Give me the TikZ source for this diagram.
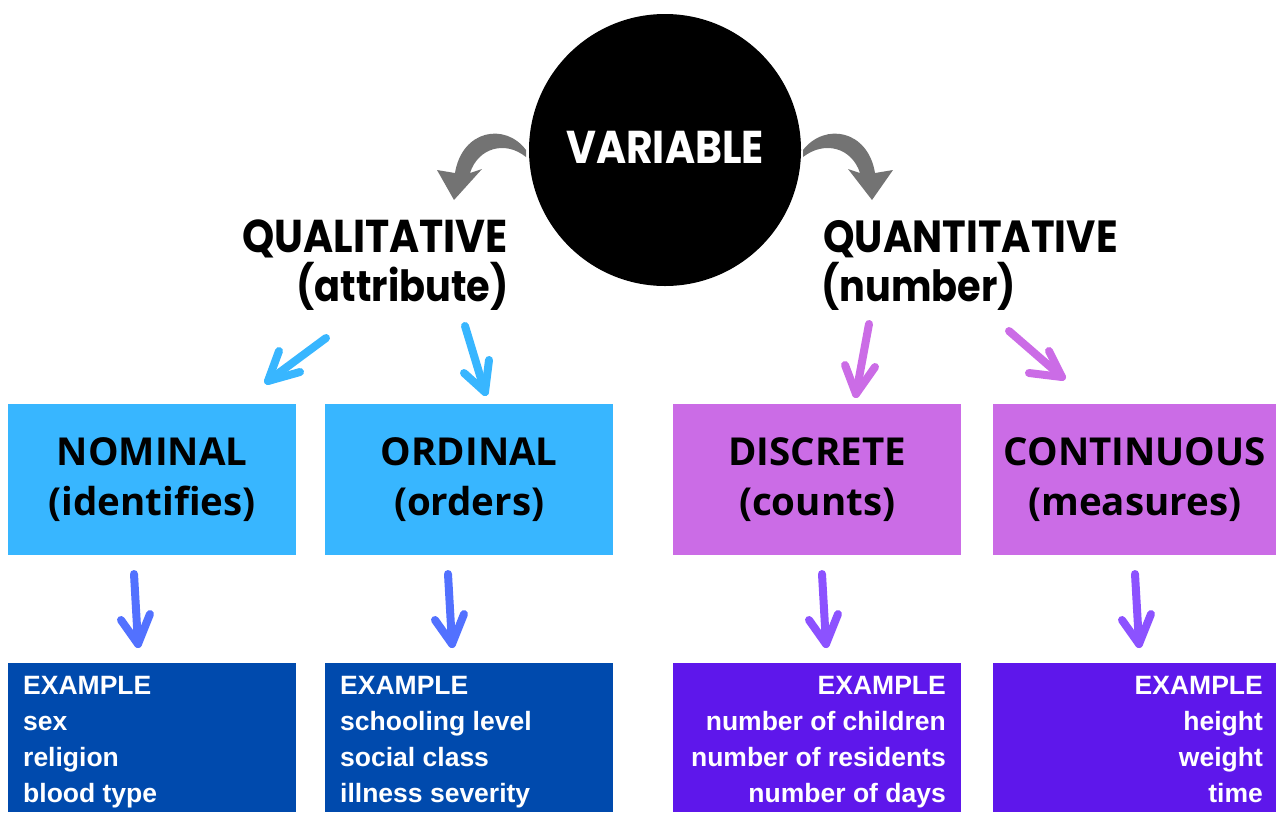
\documentclass[tikz,border=0pt]{standalone}
\usepackage{fontspec}
\setmainfont{Liberation Sans}
\newfontfamily\dispfont{Poppins}[FakeStretch=0.89]
\newfontfamily\boxfont{Open Sans}
\begin{document}
\begin{tikzpicture}[x=1pt,y=-1pt]
\definecolor{qualbox}{HTML}{38B6FF}
\definecolor{quanbox}{HTML}{CB6CE6}
\definecolor{qualex}{HTML}{004AAD}
\definecolor{quanex}{HTML}{5E17EB}
\definecolor{qualarrow}{HTML}{5271FF}
\definecolor{quanarrow}{HTML}{8C52FF}
\definecolor{curlgray}{HTML}{737373}
\tikzset{
  kindbox/.style={minimum width=288pt, minimum height=151pt, inner sep=0pt, anchor=north west,
    font=\boxfont\bfseries\fontsize{38.5}{50}\selectfont, align=center},
  exbox/.style={minimum width=288pt, minimum height=149pt, inner sep=0pt, anchor=north west},
  extext/.style={font=\bfseries\fontsize{26.5}{36}\selectfont, text=white, inner sep=0pt},
  headtext/.style={font=\dispfont\bfseries\fontsize{46}{48}\selectfont, inner sep=0pt},
  subtext/.style={font=\dispfont\bfseries\fontsize{43}{48}\selectfont, inner sep=0pt},
  sketch/.style={line width=8pt, line cap=round, line join=round},
}
\useasboundingbox (0,0) rectangle (1276,812);

% central circle
\node[circle, fill=black, minimum size=272pt, inner sep=0pt] (var) at (665,150) {};
\node[headtext, text=white] (varlabel) at (665,147) {VARIABLE};

% branch headings
\node[headtext, anchor=east] (qual) at (508,239) {QUALITATIVE};
\node[subtext, anchor=east] (qualsub) at (509,286) {(attribute)};
\node[headtext, anchor=west, font=\dispfont\bfseries\fontsize{45}{48}\selectfont] (quan) at (823,239) {QUANTITATIVE};
\node[subtext, anchor=west] (quansub) at (821,286) {(number)};

% curled arrows from the circle
\fill[curlgray] (526,150) .. controls (505,122) and (462,130) .. (455,173)
  -- (437,170) -- (454,200) -- (482,169) -- (470,173)
  .. controls (478,148) and (505,140) .. (526,157) -- cycle;
\fill[curlgray] (803,150) .. controls (825,122) and (868,130) .. (875,173)
  -- (893,170) -- (872,200) -- (848,169) -- (860,173)
  .. controls (852,148) and (825,140) .. (803,157) -- cycle;

% variable kinds
\node[kindbox, fill=qualbox] (nominal) at (8,404) {NOMINAL\\(identifies)};
\node[kindbox, fill=qualbox] (ordinal) at (325,404) {ORDINAL\\(orders)};
\node[kindbox, fill=quanbox] (discrete) at (673,404) {DISCRETE\\(counts)};
\node[kindbox, fill=quanbox, minimum width=283pt] (continuous) at (993,404) {CONTINUOUS\\(measures)};

% example boxes
\node[exbox, fill=qualex] (nomex) at (8,663) {};
\node[exbox, fill=qualex] (ordex) at (325,663) {};
\node[exbox, fill=quanex] (disex) at (673,663) {};
\node[exbox, fill=quanex, minimum width=283pt] (conex) at (993,663) {};

\foreach \t [count=\i from 0] in {EXAMPLE,sex,religion,blood type}
  \node[extext, anchor=base west] (nomex\i) at (23,694+36*\i) {\t};
\foreach \t [count=\i from 0] in {EXAMPLE,schooling level,social class,illness severity}
  \node[extext, anchor=base west] (ordex\i) at (340,694+36*\i) {\t};
\foreach \t [count=\i from 0] in {EXAMPLE,number of children,number of residents,number of days}
  \node[extext, anchor=base east] (disex\i) at (946,694+36*\i) {\t};
\foreach \t [count=\i from 0] in {EXAMPLE,height,weight,time}
  \node[extext, anchor=base east] (conex\i) at (1263,694+36*\i) {\t};

% hand-drawn arrows: heading -> kind
\coordinate (a1t) at (326,338); \coordinate (a1h) at (268,381);
\draw[sketch, qualbox] (a1t) -- (a1h);
\draw[sketch, qualbox] (279,351) -- (a1h) -- (300,372);

\coordinate (a2t) at (465,326); \coordinate (a2h) at (485,392);
\draw[sketch, qualbox] (a2t) -- (a2h);
\draw[sketch, qualbox] (464,373) -- (a2h) -- (489,360);

\coordinate (a3t) at (869,324); \coordinate (a3h) at (856,394);
\draw[sketch, quanbox] (a3t) -- (a3h);
\draw[sketch, quanbox] (845,365) -- (a3h) -- (875,367);

\coordinate (a4t) at (1009,331); \coordinate (a4h) at (1062,377);
\draw[sketch, quanbox] (a4t) -- (a4h);
\draw[sketch, quanbox] (1049,351) -- (a4h) -- (1029,373);

% hand-drawn arrows: kind -> examples
\foreach \x/\c in {0/qualarrow,314/qualarrow,688/quanarrow,1001/quanarrow}{
  \draw[sketch, \c] (134+\x,574) -- (138+\x,644);
  \draw[sketch, \c] (121+\x,620) -- (138+\x,644) -- (150+\x,614);
}
\end{tikzpicture}
\end{document}
